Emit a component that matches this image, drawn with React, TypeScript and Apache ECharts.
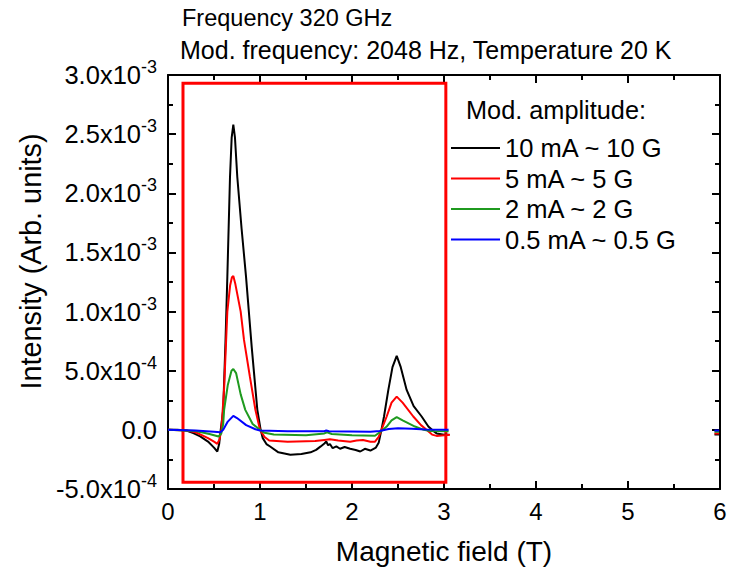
import React, { useEffect, useRef } from 'react';
import * as echarts from 'echarts';

const seriesNames = ['10 mA ~ 10 G', '5 mA ~ 5 G', '2 mA ~ 2 G', '0.5 mA ~ 0.5 G'];
const seriesColors = ['#000000', '#ff0000', '#1f9a1f', '#0000ff'];

const amp10: [number, number][] = [
  [0, 0], [0.1, 0], [0.2, -0.005e-3], [0.275, -0.028e-3], [0.35, -0.055e-3], [0.435, -0.099e-3],
  [0.5, -0.15e-3], [0.536, -0.183e-3], [0.556, -0.12e-3], [0.573, 0], [0.6, 0.169e-3], [0.625, 0.75e-3],
  [0.645, 1.295e-3], [0.674, 2.14e-3], [0.692, 2.47e-3], [0.71, 2.58e-3], [0.728, 2.47e-3], [0.753, 2.14e-3],
  [0.8, 1.7e-3], [0.848, 1.295e-3], [0.91, 0.7e-3], [0.971, 0.169e-3], [1.007, 0], [1.03, -0.07e-3],
  [1.07, -0.12e-3], [1.11, -0.141e-3], [1.2, -0.19e-3], [1.33, -0.211e-3], [1.45, -0.205e-3], [1.55, -0.19e-3],
  [1.61, -0.169e-3], [1.66, -0.14e-3], [1.7, -0.115e-3], [1.72, -0.099e-3], [1.74, -0.13e-3], [1.76, -0.12e-3],
  [1.79, -0.155e-3], [1.83, -0.14e-3], [1.87, -0.16e-3], [1.92, -0.145e-3], [1.98, -0.16e-3], [2.04, -0.17e-3],
  [2.09, -0.183e-3], [2.14, -0.16e-3], [2.2, -0.175e-3], [2.26, -0.15e-3], [2.29, -0.11e-3], [2.32, 0],
  [2.348, 0.113e-3], [2.395, 0.338e-3], [2.44, 0.53e-3], [2.486, 0.626e-3], [2.53, 0.53e-3], [2.594, 0.338e-3],
  [2.67, 0.2e-3], [2.757, 0.113e-3], [2.83, 0.028e-3], [2.87, 0], [2.92, -0.03e-3], [3.0, -0.042e-3], [3.05, -0.042e-3],
];
const amp5: [number, number][] = [
  [0, 0], [0.2, -0.005e-3], [0.3, -0.02e-3], [0.435, -0.07e-3], [0.5, -0.1e-3], [0.536, -0.118e-3],
  [0.56, -0.08e-3], [0.58, 0], [0.61, 0.35e-3], [0.632, 0.76e-3], [0.645, 1.0e-3], [0.675, 1.22e-3],
  [0.695, 1.29e-3], [0.71, 1.30e-3], [0.73, 1.24e-3], [0.79, 1.0e-3], [0.826, 0.76e-3], [0.89, 0.45e-3],
  [0.95, 0.17e-3], [1.0, 0], [1.05, -0.06e-3], [1.1, -0.09e-3], [1.3, -0.1e-3], [1.6, -0.095e-3],
  [1.7, -0.085e-3], [1.76, -0.08e-3], [1.85, -0.09e-3], [1.98, -0.1e-3], [2.05, -0.09e-3], [2.12, -0.085e-3],
  [2.2, -0.1e-3], [2.25, -0.1e-3], [2.29, -0.06e-3], [2.32, 0], [2.377, 0.113e-3], [2.43, 0.23e-3],
  [2.486, 0.281e-3], [2.55, 0.23e-3], [2.666, 0.113e-3], [2.75, 0.04e-3], [2.81, 0], [2.87, -0.04e-3],
  [2.92, -0.051e-3], [3.0, -0.045e-3], [3.065, -0.042e-3],
];
const amp2: [number, number][] = [
  [0, 0], [0.3, -0.01e-3], [0.45, -0.035e-3], [0.55, -0.056e-3], [0.58, -0.03e-3], [0.6, 0.05e-3],
  [0.61, 0.169e-3], [0.65, 0.38e-3], [0.69, 0.5e-3], [0.71, 0.515e-3], [0.74, 0.48e-3], [0.79, 0.3e-3],
  [0.84, 0.169e-3], [0.92, 0.05e-3], [1.0, 0], [1.05, -0.025e-3], [1.15, -0.04e-3], [1.5, -0.045e-3],
  [1.7, -0.03e-3], [1.73, -0.02e-3], [1.78, -0.035e-3], [2.0, -0.045e-3], [2.25, -0.05e-3], [2.32, -0.01e-3],
  [2.377, 0.028e-3], [2.43, 0.08e-3], [2.486, 0.107e-3], [2.55, 0.08e-3], [2.685, 0.028e-3], [2.78, 0],
  [2.85, -0.01e-3], [3.05, -0.012e-3],
];
const amp05: [number, number][] = [
  [0, 0], [0.3, -0.005e-3], [0.5, -0.015e-3], [0.57, -0.02e-3], [0.6, 0], [0.65, 0.07e-3],
  [0.71, 0.118e-3], [0.75, 0.1e-3], [0.85, 0.04e-3], [0.95, 0.005e-3], [1.0, -0.005e-3], [1.3, -0.012e-3],
  [1.7, -0.012e-3], [1.72, -0.005e-3], [1.75, -0.012e-3], [2.2, -0.015e-3], [2.3, -0.01e-3], [2.4, 0.008e-3],
  [2.5, 0.014e-3], [2.65, 0.01e-3], [2.8, 0.003e-3], [3.05, 0],
];
// short segments at the right edge of the field range
const tail10: [number, number][] = [[5.94, -0.04e-3], [5.99, -0.04e-3]];
const tail5: [number, number][] = [[5.94, -0.03e-3], [5.99, -0.03e-3]];
const tail2: [number, number][] = [[5.94, -0.015e-3], [5.99, -0.015e-3]];
const tail05: [number, number][] = [[5.94, -0.005e-3], [5.99, -0.005e-3]];

const mainData = [amp10, amp5, amp2, amp05];
const tailData = [tail10, tail5, tail2, tail05];

const xTickLabels = ['0', '1', '2', '3', '4', '5', '6'];
const yTickValues = [-0.0005, 0, 0.0005, 0.001, 0.0015, 0.002, 0.0025, 0.003];
const yTickMantissa = ['-5.0x10', '0.0', '5.0x10', '1.0x10', '1.5x10', '2.0x10', '2.5x10', '3.0x10'];
const yTickExponent = ['-4', '', '-4', '-3', '-3', '-3', '-3', '-3'];

const redBox = { x0: 0.163, x1: 3.02, y0: -0.000442, y1: 0.00293 };
const titleLines = ['Frequency 320 GHz', 'Mod. frequency: 2048 Hz, Temperature 20 K'];
const legendTitle = 'Mod. amplitude:';
const xName = 'Magnetic field (T)';
const yName = 'Intensity (Arb. units)';

const FONT = '"Liberation Sans", Arial, sans-serif';

export default function App() {
  const ref = useRef<HTMLDivElement>(null);
  useEffect(() => {
    if (!ref.current) return;
    const chart = echarts.init(ref.current, null, { renderer: 'svg' });
    const axisLine = { show: true, onZero: false, lineStyle: { color: '#000', width: 2 } };
    const axisTick = { show: true, inside: true, length: 8, lineStyle: { color: '#000', width: 2 } };
    const minorTick = { show: true, splitNumber: 2, length: 5, lineStyle: { color: '#000', width: 2 } };
    const yLabel = (v: number) => {
      let idx = 0;
      let best = Infinity;
      yTickValues.forEach((t, i) => {
        const d = Math.abs(t - v);
        if (d < best) { best = d; idx = i; }
      });
      const e = yTickExponent[idx];
      return e ? `{a|${yTickMantissa[idx]}}{b|${e}}` : `{a|${yTickMantissa[idx]}}`;
    };
    const series: any[] = mainData.map((d, i) => ({
      name: seriesNames[i],
      type: 'line',
      data: [...d, [4.5, null], ...tailData[i]],
      connectNulls: false,
      showSymbol: false,
      symbol: 'none',
      lineStyle: { color: seriesColors[i], width: 2 },
      itemStyle: { color: seriesColors[i] },
      z: 3 + i,
      ...(i === 0
        ? {
            markArea: {
              silent: true,
              itemStyle: { color: 'rgba(0,0,0,0)', borderColor: '#ff0000', borderWidth: 3 },
              data: [[{ coord: [redBox.x0, redBox.y1] }, { coord: [redBox.x1, redBox.y0] }]],
            },
          }
        : {}),
    }));
    chart.setOption({
      animation: false,
      backgroundColor: '#fff',
      grid: { left: 168, right: 11, top: 75, bottom: 83 },
      xAxis: [
        {
          type: 'value', min: 0, max: 6, interval: 1, position: 'bottom',
          axisLine, axisTick, minorTick, splitLine: { show: false },
          axisLabel: {
            fontSize: 24, color: '#000', fontFamily: FONT, margin: 10,
            formatter: (v: number) => xTickLabels[Math.round(v)] ?? '',
          },
          name: xName, nameLocation: 'middle', nameGap: 48,
          nameTextStyle: { fontSize: 28, color: '#000', fontFamily: FONT },
        },
        {
          type: 'value', min: 0, max: 6, interval: 1, position: 'top',
          axisLine, axisTick, minorTick, splitLine: { show: false }, axisLabel: { show: false },
        },
      ],
      yAxis: [
        {
          type: 'value', min: -0.0005, max: 0.003, interval: 0.0005, position: 'left',
          axisLine, axisTick, minorTick, splitLine: { show: false },
          axisLabel: {
            color: '#000', fontFamily: FONT, margin: 11,
            formatter: yLabel,
            rich: {
              a: { fontSize: 25.5, lineHeight: 34, color: '#000', fontFamily: FONT },
              b: { fontSize: 18, lineHeight: 18, verticalAlign: 'top', color: '#000', fontFamily: FONT },
            },
          },
        },
        {
          type: 'value', min: -0.0005, max: 0.003, interval: 0.0005, position: 'right',
          axisLine, axisTick, minorTick, splitLine: { show: false }, axisLabel: { show: false },
        },
      ],
      legend: {
        data: seriesNames,
        orient: 'vertical',
        left: 451,
        top: 133,
        padding: 0,
        icon: 'rect',
        itemWidth: 49,
        itemHeight: 2,
        itemGap: 0.5,
        selectedMode: false,
        textStyle: { fontSize: 25.5, lineHeight: 30, color: '#000', fontFamily: FONT },
      },
      graphic: [
        { type: 'text', left: 182, top: 6, style: { text: titleLines[0], fontSize: 23.5, fill: '#000', fontFamily: FONT } },
        { type: 'text', left: 180, top: 37, style: { text: titleLines[1], fontSize: 25, fill: '#000', fontFamily: FONT } },
        { type: 'text', left: 466, top: 97, style: { text: legendTitle, fontSize: 25.3, fill: '#000', fontFamily: FONT } },
        {
          type: 'text', x: 31, y: 261.5, rotation: Math.PI / 2,
          style: { text: yName, fontSize: 28.8, fill: '#000', fontFamily: FONT, align: 'center', verticalAlign: 'middle' },
        },
      ],
      series,
    });
    return () => chart.dispose();
  }, []);
  return <div ref={ref} style={{ position: 'fixed', left: 0, top: 0, width: 731, height: 572 }} />;
}
